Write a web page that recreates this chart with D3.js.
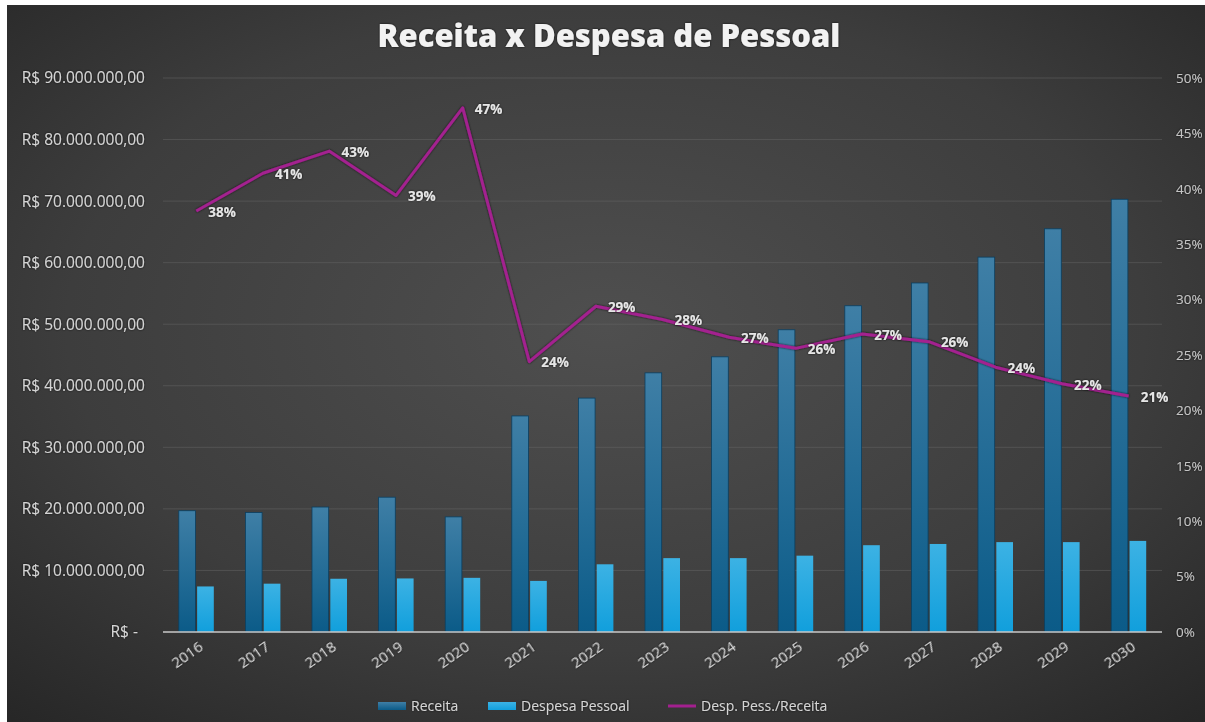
<!DOCTYPE html>
<html>
<head>
<meta charset="utf-8">
<script src="https://cdn.jsdelivr.net/npm/d3@7"></script>
<style>
    html, body { margin: 0; padding: 0; background: #ffffff; }
    svg { display: block; }
    text { font-family: "Open Sans", "Liberation Sans", sans-serif; }
</style>
</head>
<body>
<div id="chart"></div>
<script>
// Data
var anos = ['2016', '2017', '2018', '2019', '2020', '2021', '2022', '2023',
    '2024', '2025', '2026', '2027', '2028', '2029', '2030'];
var receita = [19.7, 19.4, 20.3, 21.9, 18.7, 35.1, 38.0, 42.1,
    44.7, 49.1, 53.0, 56.7, 60.9, 65.5, 70.3]; // milhoes R$
var despesa = [7.4, 7.85, 8.65, 8.7, 8.8, 8.3, 11.0, 12.0,
    12.0, 12.4, 14.1, 14.3, 14.6, 14.6, 14.8]; // milhoes R$
var razao = [38.0, 41.4, 43.4, 39.4, 47.3, 24.4, 29.4, 28.2,
    26.6, 25.6, 26.9, 26.2, 23.9, 22.4, 21.3]; // %
var leftTicks = [0, 10, 20, 30, 40, 50, 60, 70, 80, 90];
var rightTicks = [0, 5, 10, 15, 20, 25, 30, 35, 40, 45, 50];

var W = 1205, H = 722;
var frame = { x: 7, y: 5 };
var plot = { left: 163, right: 1162, top: 78, bottom: 632 };

var svg = d3.select('#chart').append('svg')
    .attr('width', W)
    .attr('height', H);

var defs = svg.append('defs');

// background gradient
var bg = defs.append('radialGradient')
    .attr('id', 'bg')
    .attr('cx', '50%').attr('cy', '45%').attr('r', '75%');
bg.append('stop').attr('offset', '0%').attr('stop-color', '#4f4f4f');
bg.append('stop').attr('offset', '60%').attr('stop-color', '#3d3d3d');
bg.append('stop').attr('offset', '100%').attr('stop-color', '#262626');

function barGradient(id, top, bottom) {
    var g = defs.append('linearGradient')
        .attr('id', id)
        .attr('x1', 0).attr('y1', 0).attr('x2', 0).attr('y2', 1);
    g.append('stop').attr('offset', '0%').attr('stop-color', top);
    g.append('stop').attr('offset', '100%').attr('stop-color', bottom);
}
barGradient('gReceita', '#3f7fa6', '#0b5b88');
barGradient('gDespesa', '#3cb2e4', '#119fdc');

var glow = defs.append('filter').attr('id', 'glow')
    .attr('x', '-20%').attr('y', '-40%').attr('width', '140%').attr('height', '180%');
glow.append('feDropShadow')
    .attr('dx', 0).attr('dy', 0).attr('stdDeviation', 1.2)
    .attr('flood-color', '#000').attr('flood-opacity', 0.8);

svg.append('rect')
    .attr('x', frame.x).attr('y', frame.y)
    .attr('width', W - frame.x).attr('height', H - frame.y)
    .attr('fill', 'url(#bg)');

// scales
var x = d3.scaleBand()
    .domain(anos)
    .range([plot.left, plot.right])
    .paddingInner(0)
    .paddingOuter(0);

var xSub = d3.scaleBand()
    .domain(['receita', 'despesa'])
    .range([0, 35])
    .paddingInner(0.09);

var yL = d3.scaleLinear().domain([0, 90]).range([plot.bottom, plot.top]);
var yR = d3.scaleLinear().domain([0, 50]).range([plot.bottom, plot.top]);

// gridlines
svg.append('g')
    .selectAll('line')
    .data(leftTicks.slice(1))
    .join('line')
    .attr('x1', plot.left).attr('x2', plot.right)
    .attr('y1', function(d) { return yL(d); })
    .attr('y2', function(d) { return yL(d); })
    .attr('stroke', '#6a6a6a')
    .attr('stroke-opacity', 0.45)
    .attr('stroke-width', 1);

// left axis labels
function fmtReais(d) {
    if (d === 0) return 'R$ -';
    return 'R$ ' + d3.format(',')(d * 1000000).replace(/,/g, '.') + ',00';
}
svg.append('g')
    .selectAll('text')
    .data(leftTicks)
    .join('text')
    .attr('x', function(d) { return d === 0 ? 138 : 145; })
    .attr('y', function(d) { return yL(d); })
    .attr('dy', '0.35em')
    .attr('text-anchor', 'end')
    .attr('fill', '#d4d4d4')
    .attr('font-size', 15.5)
    .attr('filter', 'url(#glow)')
    .text(fmtReais);

// right axis labels
svg.append('g')
    .selectAll('text')
    .data(rightTicks)
    .join('text')
    .attr('x', 1176)
    .attr('y', function(d) { return yR(d); })
    .attr('dy', '0.35em')
    .attr('fill', '#c4c4c4')
    .attr('font-size', 13.5)
    .attr('filter', 'url(#glow)')
    .text(function(d) { return d + '%'; });

// bars
var groups = svg.append('g')
    .selectAll('g')
    .data(anos)
    .join('g')
    .attr('transform', function(d) {
        return 'translate(' + (x(d) + (x.bandwidth() - 35) / 2) + ',0)';
    });

groups.append('rect')
    .attr('x', xSub('receita'))
    .attr('width', xSub.bandwidth())
    .attr('y', function(d, i) { return yL(receita[i]); })
    .attr('height', function(d, i) { return plot.bottom - yL(receita[i]); })
    .attr('fill', 'url(#gReceita)')
    .attr('stroke', '#0a3f60')
    .attr('stroke-width', 0.8);

groups.append('rect')
    .attr('x', xSub('despesa'))
    .attr('width', xSub.bandwidth())
    .attr('y', function(d, i) { return yL(despesa[i]); })
    .attr('height', function(d, i) { return plot.bottom - yL(despesa[i]); })
    .attr('fill', 'url(#gDespesa)');

// baseline
svg.append('line')
    .attr('x1', plot.left).attr('x2', plot.right)
    .attr('y1', plot.bottom).attr('y2', plot.bottom)
    .attr('stroke', '#c8c8c8')
    .attr('stroke-width', 1.5);

// x labels
svg.append('g')
    .selectAll('text')
    .data(anos)
    .join('text')
    .attr('transform', function(d) {
        return 'translate(' + (x(d) + x.bandwidth() / 2 + 5) + ',' + (plot.bottom + 13) + ') rotate(-35)';
    })
    .attr('text-anchor', 'end')
    .attr('dy', '0.35em')
    .attr('fill', '#d4d4d4')
    .attr('font-size', 15)
    .attr('filter', 'url(#glow)')
    .text(function(d) { return d; });

// ratio line
var line = d3.line()
    .x(function(d, i) { return x(anos[i]) + x.bandwidth() / 2; })
    .y(function(d) { return yR(d); });

svg.append('path')
    .datum(razao)
    .attr('d', line)
    .attr('fill', 'none')
    .attr('stroke', '#a3208f')
    .attr('stroke-width', 3)
    .attr('stroke-linejoin', 'round')
    .attr('filter', 'url(#glow)');

svg.append('g')
    .selectAll('text')
    .data(razao)
    .join('text')
    .attr('x', function(d, i) { return x(anos[i]) + x.bandwidth() / 2 + 12; })
    .attr('y', function(d) { return yR(d) + 1; })
    .attr('dy', '0.35em')
    .attr('fill', '#e6e6e6')
    .attr('font-size', 13.5)
    .attr('font-weight', 700)
    .attr('filter', 'url(#glow)')
    .text(function(d) { return Math.round(d) + '%'; });

// title
svg.append('text')
    .attr('x', 609)
    .attr('y', 36)
    .attr('dy', '0.35em')
    .attr('text-anchor', 'middle')
    .attr('fill', '#f2f2f2')
    .attr('font-size', 31)
    .attr('font-weight', 800)
    .attr('filter', 'url(#glow)')
    .text('Receita x Despesa de Pessoal');

// legend
var legendItems = [
    { name: 'Receita', type: 'bar', fill: 'url(#gReceita)', x: 378 },
    { name: 'Despesa Pessoal', type: 'bar', fill: 'url(#gDespesa)', x: 488 },
    { name: 'Desp. Pess./Receita', type: 'line', fill: '#a3208f', x: 668 }
];
var legend = svg.append('g')
    .selectAll('g')
    .data(legendItems)
    .join('g')
    .attr('transform', function(d) { return 'translate(' + d.x + ',706)'; });

legend.each(function(d) {
    var g = d3.select(this);
    if (d.type === 'bar') {
        g.append('rect')
            .attr('x', 0).attr('y', -4)
            .attr('width', 28).attr('height', 8)
            .attr('fill', d.fill);
    } else {
        g.append('line')
            .attr('x1', 0).attr('x2', 28)
            .attr('y1', 0).attr('y2', 0)
            .attr('stroke', d.fill)
            .attr('stroke-width', 3);
    }
    g.append('text')
        .attr('x', 33)
        .attr('dy', '0.35em')
        .attr('fill', '#d4d4d4')
        .attr('font-size', 14)
        .attr('filter', 'url(#glow)')
        .text(d.name);
});
</script>
</body>
</html>
